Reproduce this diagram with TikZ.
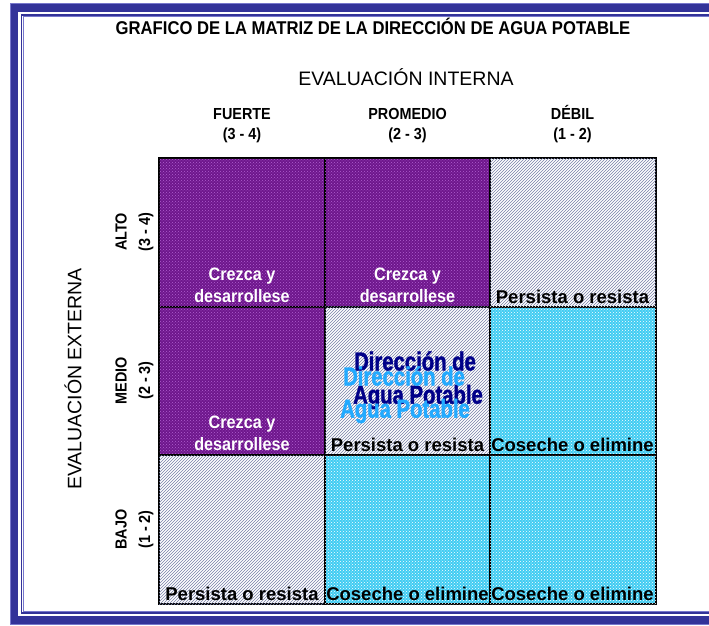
\documentclass[tikz,border=0pt]{standalone}
\usepackage{fontspec}
\setmainfont{Liberation Sans}
\newfontfamily\nar[FakeStretch=0.9]{Liberation Sans}
\newfontfamily\wide{Liberation Sans}
\newfontfamily\logofont[FakeStretch=0.78,FakeBold=1.5]{Liberation Sans}
\usetikzlibrary{patterns}
\definecolor{frameblue}{HTML}{333399}
\definecolor{framelight}{HTML}{7777CC}
\definecolor{purpbase}{HTML}{6E168C}
\definecolor{purpdot}{HTML}{B060D0}
\definecolor{hatchline}{HTML}{7880A8}
\definecolor{cyanbase}{HTML}{40CCF2}
\definecolor{navyblue}{HTML}{000088}
\definecolor{lightblue}{HTML}{22AAFF}
\tikzset{
  cellbox/.style={draw=black, line width=2pt, minimum width=166pt, minimum height=149pt, inner sep=0pt, outer sep=0pt, anchor=north west},
  purplecell/.style={cellbox, fill=purpbase, postaction={pattern=crosshatch dots, pattern color=purpdot}},
  hatchcell/.style={cellbox, fill=white, postaction={pattern=north east lines, pattern color=hatchline}},
  cyancell/.style={cellbox, fill=cyanbase, postaction={pattern=crosshatch dots, pattern color=white}},
  whitetxt/.style={font=\nar\bfseries\fontsize{18}{20}\selectfont, text=white, anchor=base, inner sep=0pt},
  blacktxt/.style={font=\wide\bfseries\fontsize{18.5}{20}\selectfont, text=black, anchor=base, inner sep=0pt},
  headtxt/.style={font=\nar\bfseries\fontsize{16}{18}\selectfont, anchor=base, inner sep=0pt},
  axistxt/.style={font=\wide\fontsize{19.5}{21}\selectfont, inner sep=0pt},
  logotxt/.style={font=\logofont\bfseries\fontsize{26}{28}\selectfont, inner sep=0pt},
}
\begin{document}
\begin{tikzpicture}[x=1pt,y=-1pt]
\useasboundingbox (0,0) rectangle (709,626);
% frame
\draw[frameblue, line width=8pt] (14,8) rectangle (760,619.5);
\draw[framelight, line width=1pt] (10,4) rectangle (770,624);
\draw[frameblue, line width=1.6pt] (21.5,15) rectangle (760,613);
\draw[framelight, line width=1pt] (23.3,16.8) rectangle (760,611.3);
% title
\node[font=\nar\bfseries\fontsize{18.5}{20}\selectfont, anchor=base, inner sep=0pt] (title) at (373,35) {GRAFICO DE LA MATRIZ DE LA DIRECCIÓN DE AGUA POTABLE};
\node[axistxt, anchor=base] (evint) at (406,85) {EVALUACIÓN INTERNA};
\node[headtxt] (h1) at (242,119) {FUERTE};
\node[headtxt] (h1r) at (242,139) {(3 - 4)};
\node[headtxt] (h2) at (407.5,119) {PROMEDIO};
\node[headtxt] (h2r) at (407.5,139) {(2 - 3)};
\node[headtxt] (h3) at (572.5,119) {DÉBIL};
\node[headtxt] (h3r) at (572.5,139) {(1 - 2)};
\node[axistxt, rotate=90] (evext) at (73,379) {EVALUACIÓN EXTERNA};
\node[headtxt, anchor=center, rotate=90] (r1) at (121,232) {ALTO};
\node[headtxt, anchor=center, rotate=90] (r1r) at (146,232) {(3 - 4)};
\node[headtxt, anchor=center, rotate=90] (r2) at (121,380.5) {MEDIO};
\node[headtxt, anchor=center, rotate=90] (r2r) at (146,380.5) {(2 - 3)};
\node[headtxt, anchor=center, rotate=90] (r3) at (121,529.5) {BAJO};
\node[headtxt, anchor=center, rotate=90] (r3r) at (146,529.5) {(1 - 2)};
% cells
\node[purplecell] (c11) at (159,158) {};
\node[purplecell] (c12) at (325,158) {};
\node[hatchcell]  (c13) at (490,158) {};
\node[purplecell] (c21) at (159,306.5) {};
\node[hatchcell]  (c22) at (325,306.5) {};
\node[cyancell]   (c23) at (490,306.5) {};
\node[hatchcell]  (c31) at (159,455) {};
\node[cyancell]   (c32) at (325,455) {};
\node[cyancell]   (c33) at (490,455) {};
% cell texts
\node[whitetxt] (t11a) at (242,280) {Crezca y};
\node[whitetxt] (t11b) at (242,302) {desarrollese};
\node[whitetxt] (t12a) at (407.5,280) {Crezca y};
\node[whitetxt] (t12b) at (407.5,302) {desarrollese};
\node[blacktxt] (t13) at (572.5,303) {Persista o resista};
\node[whitetxt] (t21a) at (242,428.5) {Crezca y};
\node[whitetxt] (t21b) at (242,450.5) {desarrollese};
\node[blacktxt] (t22) at (407.5,451.5) {Persista o resista};
\node[blacktxt] (t23) at (572.5,451.5) {Coseche o elimine};
\node[blacktxt] (t31) at (242,600) {Persista o resista};
\node[blacktxt] (t32) at (407.5,600) {Coseche o elimine};
\node[blacktxt] (t33) at (572.5,600) {Coseche o elimine};
% logo
\node[logotxt, text=navyblue] (lg1) at (415,361) {Dirección de};
\node[logotxt, text=navyblue] (lg2) at (418,397) {Agua Potable};
\node[logotxt, text=lightblue] (lg3) at (404,376) {Dirección de};
\node[logotxt, text=lightblue] (lg4) at (405,411) {Agua Potable};
\end{tikzpicture}
\end{document}
